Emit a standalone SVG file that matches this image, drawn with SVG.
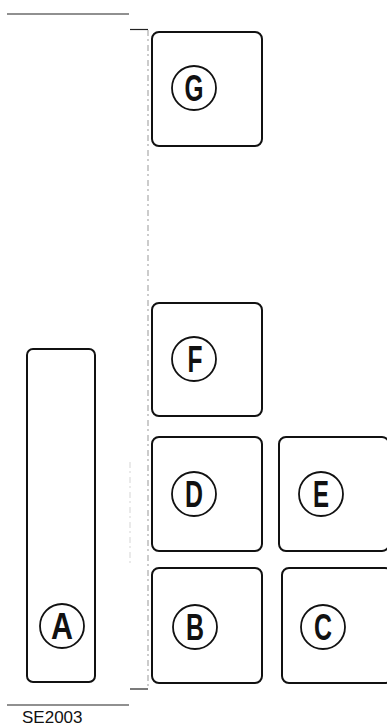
<svg xmlns="http://www.w3.org/2000/svg" width="387" height="726" viewBox="0 0 387 726">
<style>
.box{fill:#fff;stroke:#111;stroke-width:2}
.circ{fill:none;stroke:#111;stroke-width:1.8}
.lbl{font-family:"Liberation Sans",Arial,sans-serif;font-size:36px;font-weight:bold;fill:#111;text-anchor:middle}
.rule{stroke:#222;stroke-width:1.2;fill:none}
.dash{stroke:#999;stroke-width:1;stroke-dasharray:6 3 2 4;fill:none}
.cap{font-family:"Liberation Sans",Arial,sans-serif;font-size:17px;fill:#111}
</style>
<rect width="387" height="726" fill="#fff"/>
<g id="connectors">
<line class="rule" x1="7" y1="14" x2="129" y2="14"/>
<line class="rule" x1="130" y1="29.5" x2="148" y2="29.5"/>
<line class="dash" x1="148" y1="30" x2="148" y2="688"/>
<line class="rule" x1="130" y1="689" x2="148" y2="689"/>
<line class="rule" x1="7" y1="705" x2="129" y2="705"/>
<line class="dash" x1="130" y1="462" x2="130" y2="565" stroke-opacity="0.4"/>
</g>
<g id="G">
<rect class="box" x="152" y="32" width="110" height="114" rx="7"/>
<circle class="circ" cx="194" cy="88" r="22"/>
<text class="lbl" x="194" y="101" textLength="19" lengthAdjust="spacingAndGlyphs">G</text>
</g>
<g id="F">
<rect class="box" x="152" y="303" width="110" height="113" rx="7"/>
<circle class="circ" cx="194" cy="359" r="22"/>
<text class="lbl" x="195" y="372" textLength="15" lengthAdjust="spacingAndGlyphs">F</text>
</g>
<g id="A">
<rect class="box" x="27" y="349" width="68" height="333" rx="6"/>
<circle class="circ" cx="62" cy="626" r="22"/>
<text class="lbl" x="62" y="639" textLength="22" lengthAdjust="spacingAndGlyphs">A</text>
</g>
<g id="D">
<rect class="box" x="152" y="437" width="110" height="114" rx="7"/>
<circle class="circ" cx="194" cy="494" r="22"/>
<text class="lbl" x="194" y="507" textLength="18" lengthAdjust="spacingAndGlyphs">D</text>
</g>
<g id="E">
<rect class="box" x="279" y="437" width="110" height="114" rx="7"/>
<circle class="circ" cx="321" cy="494" r="22"/>
<text class="lbl" x="321" y="507" textLength="16" lengthAdjust="spacingAndGlyphs">E</text>
</g>
<g id="B">
<rect class="box" x="152" y="568" width="110" height="115" rx="7"/>
<circle class="circ" cx="195" cy="627" r="22"/>
<text class="lbl" x="195" y="640" textLength="18" lengthAdjust="spacingAndGlyphs">B</text>
</g>
<g id="C">
<rect class="box" x="282" y="568" width="110" height="115" rx="7"/>
<circle class="circ" cx="323" cy="627" r="22"/>
<text class="lbl" x="323" y="640" textLength="18" lengthAdjust="spacingAndGlyphs">C</text>
</g>
<text class="cap" x="22" y="723">SE2003</text>
</svg>
